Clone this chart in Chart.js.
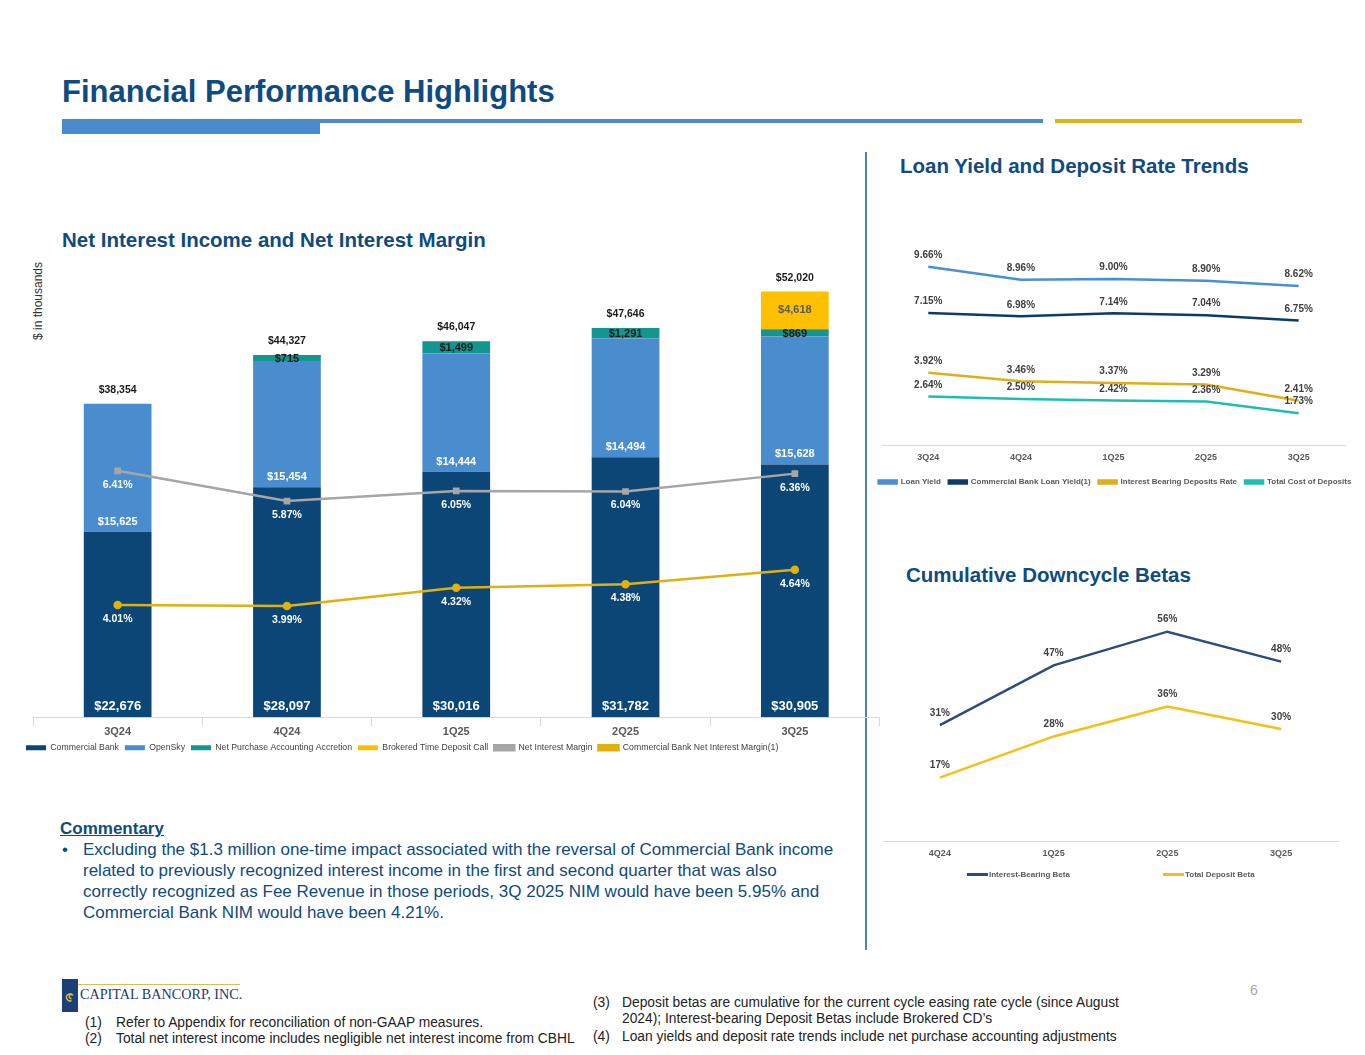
<!DOCTYPE html>
<html>
<head>
<meta charset="utf-8">
<script src="https://cdn.jsdelivr.net/npm/chart.js@4.4.1/dist/chart.umd.min.js"></script>
<style>
  body { margin: 0; width: 1365px; height: 1055px; position: relative; background: #fff; overflow: hidden;
         font-family: "Liberation Sans", Arial, sans-serif; }
  .abs { position: absolute; }
  .title { left: 62px; top: 74px; font-size: 31px; font-weight: bold; color: #0f4a80; white-space: nowrap; }
  .sub { font-size: 20.5px; font-weight: bold; color: #0f4a80; white-space: nowrap; }
  .note { font-size: 13.8px; color: #222; white-space: nowrap; line-height: 16px; }
  .note span.n { display: inline-block; width: 31px; }
  .com { left: 60px; top: 818px; color: #0f4a80; }
  .com h4 { margin: 0; font-size: 17px; text-decoration: underline; font-weight: bold; line-height: 21px; }
  .com div.b { position: relative; padding-left: 23px; font-size: 17px; line-height: 21px; white-space: nowrap; margin-top: 0; }
  .com div.b:before { content: "\2022"; position: absolute; left: 2px; top: 0; }
  .lg { font-size: 8px; color: #595959; font-weight: bold; white-space: nowrap; }
  .lg i { display: inline-block; width: 21px; height: 3px; vertical-align: middle; margin-right: 1px; }
</style>
</head>
<body>

<div class="abs title">Financial Performance Highlights</div>
<div class="abs" style="left:62px;top:119px;width:981px;height:4px;background:#4a8bd0"></div>
<div class="abs" style="left:62px;top:119px;width:258px;height:15px;background:#4a8bd0"></div>
<div class="abs" style="left:1055px;top:119px;width:247px;height:4px;background:#e0b21c"></div>

<div class="abs" style="left:865px;top:152px;width:1.5px;height:798px;background:#4f7fbf"></div>

<div class="abs sub" style="left:62px;top:228px">Net Interest Income and Net Interest Margin</div>
<div class="abs sub" style="left:900px;top:154px">Loan Yield and Deposit Rate Trends</div>
<div class="abs sub" style="left:906px;top:563px">Cumulative Downcycle Betas</div>

<div class="abs" style="left:-12px;top:294px;width:100px;text-align:center;transform:rotate(-90deg);font-size:12px;color:#333;white-space:nowrap">$ in thousands</div>

<div class="abs" style="left:20px;top:250px;width:866px;height:512px"><canvas id="nii"></canvas></div>
<div class="abs" style="left:870px;top:234px;width:490px;height:262px"><canvas id="yields"></canvas></div>
<div class="abs" style="left:870px;top:590px;width:490px;height:276px"><canvas id="betas"></canvas></div>

<div class="abs lg" style="left:967px;top:870px"><i style="background:#2b4c7e"></i>Interest-Bearing Beta</div>
<div class="abs lg" style="left:1163px;top:870px"><i style="background:#f5bf17"></i>Total Deposit Beta</div>

<div class="abs com">
  <h4>Commentary</h4>
  <div class="b">Excluding the $1.3 million one-time impact associated with the reversal of Commercial Bank income<br>related to previously recognized interest income in the first and second quarter that was also<br>correctly recognized as Fee Revenue in those periods, 3Q 2025 NIM would have been 5.95% and<br>Commercial Bank NIM would have been 4.21%.</div>
</div>

<svg class="abs" style="left:62px;top:979px" width="16" height="33">
  <rect width="16" height="33" fill="#1d3f78"/>
  <path d="M9.5 21.5 a3.5 3.5 0 1 1 1.5 -5 M11 16.5 a2 2 0 1 0 -1.5 3" stroke="#e2b842" fill="none" stroke-width="1.4"/>
</svg>
<div class="abs" style="left:78px;top:984px;width:162px;height:1px;background:#d9bd55"></div>
<div class="abs" style="left:80px;top:986px;font-family:'Liberation Serif',serif;font-size:14.2px;color:#1f3a6e;white-space:nowrap">CAPITAL BANCORP, INC.</div>
<div class="abs" style="left:1250px;top:982px;font-size:14px;color:#a6a6a6">6</div>

<div class="abs note" style="left:85px;top:1015px"><span class="n">(1)</span>Refer to Appendix for reconciliation of non-GAAP measures.<br><span class="n">(2)</span>Total net interest income includes negligible net interest income from CBHL</div>
<div class="abs note" style="left:593px;top:995px"><span class="n" style="width:29px">(3)</span>Deposit betas are cumulative for the current cycle easing rate cycle (since August<br><span class="n" style="width:29px"></span>2024); Interest-bearing Deposit Betas include Brokered CD’s<br><span class="n" style="width:29px;margin-top:2px">(4)</span>Loan yields and deposit rate trends include net purchase accounting adjustments</div>

<script>
// main chart
const quarters = ['3Q24', '4Q24', '1Q25', '2Q25', '3Q25']
const commercialBank = [22676, 28097, 30016, 31782, 30905]
const openSky = [15625, 15454, 14444, 14494, 15628]
const accretion = [null, 715, 1499, 1291, 869]
const brokered = [null, null, null, null, 4618]
const totals = [38354, 44327, 46047, 47646, 52020]
const nim = [6.41, 5.87, 6.05, 6.04, 6.36]
const cbNim = [4.01, 3.99, 4.32, 4.38, 4.64]

// loan yield / deposit rate trends
const loanYield = [9.66, 8.96, 9.00, 8.90, 8.62]
const cbLoanYield = [7.15, 6.98, 7.14, 7.04, 6.75]
const ibDepositRate = [3.92, 3.46, 3.37, 3.29, 2.41]
const totalCostDeposits = [2.64, 2.50, 2.42, 2.36, 1.73]

// betas
const betaQuarters = ['4Q24', '1Q25', '2Q25', '3Q25']
const ibBeta = [31, 47, 56, 48]
const totalBeta = [17, 28, 36, 30]

const FONT = '"Liberation Sans", Arial, sans-serif'
Chart.defaults.font.family = FONT
Chart.defaults.animation = false

const money = v => '$' + v.toLocaleString('en-US')
const pct = v => v.toFixed(2) + '%'

function txt(ctx, s, x, y, size, color) {
    ctx.save()
    ctx.font = 'bold ' + size + 'px ' + FONT
    ctx.fillStyle = color
    ctx.textAlign = 'center'
    ctx.textBaseline = 'middle'
    ctx.fillText(s, x, y)
    ctx.restore()
}

// invisible axis that only reserves some width
const spacer = (w, pos, min, max) => ({
    position: pos, min: min, max: max, display: true,
    grid: {display: false}, border: {display: false}, ticks: {display: false},
    afterFit: s => { s.width = w }
})

new Chart('nii', {
    data: {
        labels: quarters,
        datasets: [
            {type: 'bar', label: 'Commercial Bank', data: commercialBank, backgroundColor: '#0b4677', yAxisID: 'y', order: 2},
            {type: 'bar', label: 'OpenSky', data: openSky, backgroundColor: '#4a8dcf', yAxisID: 'y', order: 2},
            {type: 'bar', label: 'Net Purchase Accounting Accretion', data: accretion, backgroundColor: '#12968f', yAxisID: 'y', order: 2},
            {type: 'bar', label: 'Brokered Time Deposit Call', data: brokered, backgroundColor: '#ffc000', yAxisID: 'y', order: 2},
            {type: 'line', label: 'Net Interest Margin', data: nim, borderColor: '#a6a6a6', backgroundColor: '#a6a6a6',
             borderWidth: 2.5, pointStyle: 'rect', pointRadius: 3, yAxisID: 'y2', order: 0},
            {type: 'line', label: 'Commercial Bank Net Interest Margin(1)', data: cbNim, borderColor: '#e0b00e', backgroundColor: '#e0b00e',
             borderWidth: 2.5, pointRadius: 3, yAxisID: 'y2', order: 0}
        ]
    },
    options: {
        responsive: true, maintainAspectRatio: false,
        layout: {padding: {top: 9}},
        datasets: {bar: {barPercentage: 0.4, categoryPercentage: 1}},
        plugins: {
            tooltip: {enabled: false},
            legend: {
                position: 'bottom', align: 'start',
                labels: {boxWidth: 20, boxHeight: 5, padding: 6, color: '#404040', font: {size: 8.7},
                         sort: (a, b) => a.datasetIndex - b.datasetIndex}
            }
        },
        scales: {
            x: {
                stacked: true,
                grid: {offset: true, drawOnChartArea: false, tickLength: 9, color: '#d9d9d9'},
                border: {color: '#d9d9d9'},
                ticks: {color: '#595959', font: {size: 11, weight: 'bold', lineHeight: 1}, padding: 0}
            },
            y: Object.assign(spacer(13, 'left', 0, 56000), {stacked: true}),
            y2: spacer(3, 'right', 2.0, 10.2)
        }
    },
    plugins: [{
        id: 'vals',
        afterDatasetsDraw(chart) {
            const ctx = chart.ctx
            const ys = chart.scales.y
            chart.getDatasetMeta(0).data.forEach((el, i) => txt(ctx, money(commercialBank[i]), el.x, el.base - 11, 13, '#fff'))
            chart.getDatasetMeta(1).data.forEach((el, i) => txt(ctx, money(openSky[i]), el.x, el.base - 10, 11, '#fff'))
            chart.getDatasetMeta(2).data.forEach((el, i) => {
                if (accretion[i] != null) txt(ctx, money(accretion[i]), el.x, (el.y + el.base) / 2 + 1, 11, '#1a1a1a')
            })
            chart.getDatasetMeta(3).data.forEach((el, i) => {
                if (brokered[i] != null) txt(ctx, money(brokered[i]), el.x, (el.y + el.base) / 2, 11, '#5a5a5a')
            })
            chart.getDatasetMeta(0).data.forEach((el, i) => txt(ctx, money(totals[i]), el.x, ys.getPixelForValue(totals[i]) - 13, 10.5, '#1a1a1a'))
            chart.getDatasetMeta(4).data.forEach((el, i) => txt(ctx, pct(nim[i]), el.x, el.y + 14, 10.5, '#fff'))
            chart.getDatasetMeta(5).data.forEach((el, i) => txt(ctx, pct(cbNim[i]), el.x, el.y + 14, 10.5, '#fff'))
        }
    }]
})

const lineSet = (label, data, color) => ({label: label, data: data, borderColor: color, backgroundColor: color,
                                         borderWidth: 2.5, pointRadius: 0, tension: 0})

new Chart('yields', {
    type: 'line',
    data: {
        labels: quarters,
        datasets: [
            lineSet('Loan Yield', loanYield, '#4a8fd4'),
            lineSet('Commercial Bank Loan Yield(1)', cbLoanYield, '#0c3b66'),
            lineSet('Interest Bearing Deposits Rate', ibDepositRate, '#e0af18'),
            lineSet('Total Cost of Deposits', totalCostDeposits, '#1dbfb5')
        ]
    },
    options: {
        responsive: true, maintainAspectRatio: false,
        layout: {padding: {top: 8}},
        plugins: {
            tooltip: {enabled: false},
            legend: {position: 'bottom', labels: {boxWidth: 18, boxHeight: 3, padding: 8, color: '#595959', font: {size: 8, weight: 'bold'}}}
        },
        scales: {
            x: {offset: true, grid: {display: false, drawTicks: false}, border: {color: '#d9d9d9'},
                ticks: {color: '#595959', font: {size: 9, weight: 'bold'}, padding: 7}},
            y: spacer(12, 'left', 0, 11),
            yr: spacer(15, 'right', 0, 1)
        }
    },
    plugins: [{
        id: 'vals',
        afterDatasetsDraw(chart) {
            chart.data.datasets.forEach((ds, d) => {
                chart.getDatasetMeta(d).data.forEach((el, i) => txt(chart.ctx, pct(ds.data[i]), el.x, el.y - 11.5, 10, '#404040'))
            })
        }
    }]
})

new Chart('betas', {
    type: 'line',
    data: {
        labels: betaQuarters,
        datasets: [
            lineSet('Interest-Bearing Beta', ibBeta, '#2b4c7e'),
            lineSet('Total Deposit Beta', totalBeta, '#f5bf17')
        ]
    },
    options: {
        responsive: true, maintainAspectRatio: false,
        layout: {padding: {top: 8}},
        plugins: {tooltip: {enabled: false}, legend: {display: false}},
        scales: {
            x: {offset: true, grid: {display: false, drawTicks: false}, border: {color: '#d9d9d9'},
                ticks: {color: '#595959', font: {size: 9, weight: 'bold'}, padding: 7}},
            y: spacer(13, 'left', 0, 65),
            yr: spacer(22, 'right', 0, 1)
        }
    },
    plugins: [{
        id: 'vals',
        afterDatasetsDraw(chart) {
            chart.data.datasets.forEach((ds, d) => {
                chart.getDatasetMeta(d).data.forEach((el, i) => txt(chart.ctx, ds.data[i] + '%', el.x, el.y - 12, 10, '#404040'))
            })
        }
    }]
})
</script>
</body>
</html>
